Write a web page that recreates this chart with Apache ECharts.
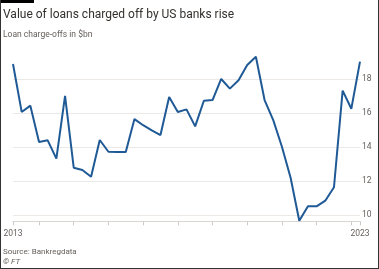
<!DOCTYPE html>
<html>
<head>
<meta charset="utf-8">
<script src="https://cdn.jsdelivr.net/npm/echarts@6/dist/echarts.min.js"></script>
<style>
html,body{margin:0;padding:0;background:#fff;}
#c{width:379px;height:269px;}
</style>
</head>
<body>
<div id="c"></div>
<script>
// Quarterly loan charge-offs, 2013 Q1 .. 2023 Q1 ($bn)
const quarters = [
  '2013Q1','2013Q2','2013Q3','2013Q4',
  '2014Q1','2014Q2','2014Q3','2014Q4',
  '2015Q1','2015Q2','2015Q3','2015Q4',
  '2016Q1','2016Q2','2016Q3','2016Q4',
  '2017Q1','2017Q2','2017Q3','2017Q4',
  '2018Q1','2018Q2','2018Q3','2018Q4',
  '2019Q1','2019Q2','2019Q3','2019Q4',
  '2020Q1','2020Q2','2020Q3','2020Q4',
  '2021Q1','2021Q2','2021Q3','2021Q4',
  '2022Q1','2022Q2','2022Q3','2022Q4',
  '2023Q1'
];
const chargeOffs = [
  18.9, 16.08, 16.45, 14.31,
  14.41, 13.33, 17.02, 12.80,
  12.66, 12.27, 14.43, 13.74,
  13.72, 13.72, 15.66, 15.30,
  15.00, 14.72, 16.96, 16.08,
  16.23, 15.23, 16.74, 16.78,
  18.02, 17.45, 17.94, 18.84,
  19.33, 16.78, 15.60, 14.03,
  12.21, 9.68, 10.53, 10.53,
  10.86, 11.65, 17.33, 16.27,
  19.04
];
const yTicks = [10, 12, 14, 16, 18];
const xEndLabels = ['2013', '2023'];
// year boundaries (start of 2014..2023) expressed in quarter index
const yearTickIdx = [3, 7, 11, 15, 19, 23, 27, 31, 35, 39];

const lastIdx = quarters.length - 1;
const seriesData = chargeOffs.map((v, i) => [i, v]);

const chart = echarts.init(document.getElementById('c'), null, {renderer: 'canvas'});
const grey = '#66605c';
const ff = 'Roboto';
chart.setOption({
  animation: false,
  backgroundColor: '#ffffff',
  textStyle: {fontFamily: ff},
  title: [
    {text: 'Value of loans charged off by US banks rise', left: 3, top: 9, padding: 0,
     textStyle: {fontSize: 12, fontWeight: 'normal', color: '#33302e', fontFamily: ff}},
    {text: 'Loan charge-offs in $bn', left: 3, top: 30, padding: 0,
     textStyle: {fontSize: 8.5, fontWeight: 'normal', color: grey, fontFamily: ff}},
    {text: 'Source: Bankregdata', left: 3, top: 248, padding: 0,
     textStyle: {fontSize: 8, fontWeight: 'normal', color: grey, fontFamily: ff}},
    {text: '© FT', left: 3, top: 258, padding: 0,
     textStyle: {fontSize: 8, fontWeight: 'normal', fontStyle: 'italic', color: grey, fontFamily: ff}}
  ],
  grid: {left: 13, right: 19, top: 45.3, bottom: 53.7, containLabel: false},
  xAxis: {
    type: 'value', min: 0, max: lastIdx, offset: 6,
    axisLine: {show: true, lineStyle: {color: '#d9d5d1', width: 1}},
    axisTick: {show: true, length: 4, lineStyle: {color: '#cfcac6'},
               customValues: [0].concat(yearTickIdx, [lastIdx])},
    axisLabel: {show: true, customValues: [0, lastIdx], margin: 8,
                color: grey, fontSize: 8.5, fontFamily: ff,
                formatter: v => (v === 0 ? xEndLabels[0] : xEndLabels[1])},
    splitLine: {show: false}
  },
  yAxis: {
    type: 'value', position: 'right', min: 10, max: 20, interval: 2,
    axisLine: {show: false}, axisTick: {show: false},
    axisLabel: {color: grey, fontSize: 8.5, margin: 2, showMaxLabel: false,
                fontFamily: ff, formatter: v => (yTicks.includes(v) ? String(v) : '')},
    splitLine: {show: true, showMaxLine: false, lineStyle: {color: '#ebe8e5', width: 1}}
  },
  series: [{
    type: 'line', data: seriesData, clip: false, symbol: 'none',
    lineStyle: {color: '#1f5a96', width: 2}
  }],
  graphic: [
    {type: 'rect', shape: {x: 0, y: 0, width: 34, height: 3}, style: {fill: '#000'}},
    {type: 'line', shape: {x1: 0.5, y1: 0, x2: 0.5, y2: 269}, style: {stroke: '#333', lineWidth: 1}},
    {type: 'line', shape: {x1: 378.5, y1: 0, x2: 378.5, y2: 269}, style: {stroke: '#333', lineWidth: 1}},
    {type: 'line', shape: {x1: 0, y1: 268.5, x2: 379, y2: 268.5}, style: {stroke: '#333', lineWidth: 1}}
  ]
});
</script>
</body>
</html>
